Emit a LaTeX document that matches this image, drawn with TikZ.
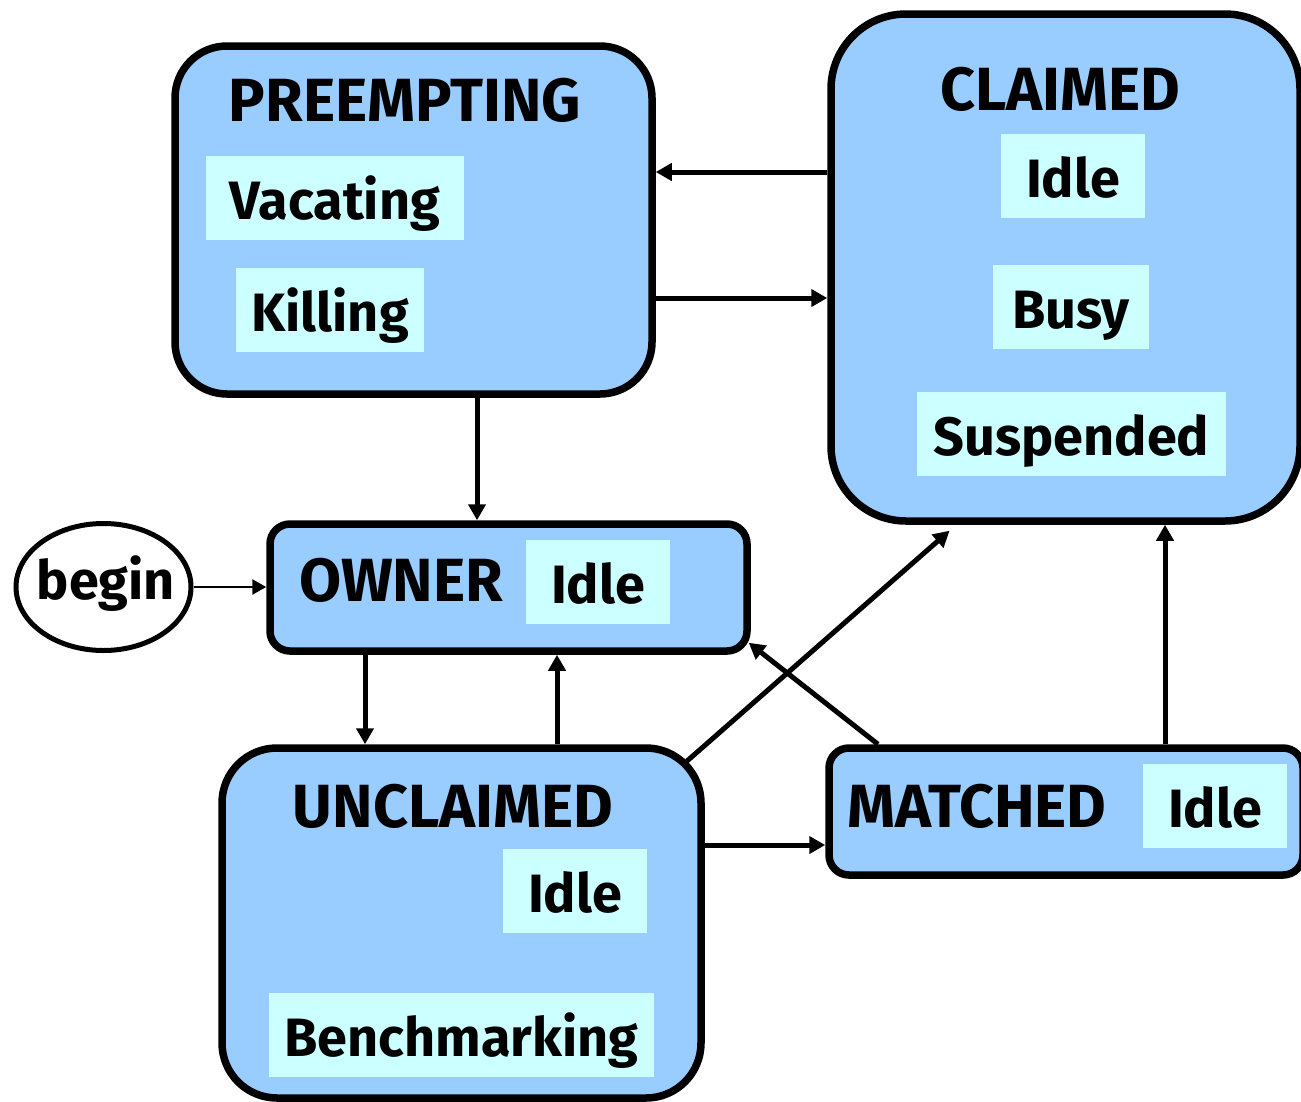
\documentclass[tikz,border=0pt]{standalone}
\usepackage{fontspec}
\setmainfont{Fira Sans}
\usetikzlibrary{arrows.meta,calc,shapes.geometric}
\definecolor{statefill}{HTML}{99CCFF}
\definecolor{subfill}{HTML}{CCFFFF}
\begin{document}
\begin{tikzpicture}[x=1pt,y=-1pt,
  statebox/.style={draw=black, line width=7.5pt, fill=statefill, rounded corners=#1, inner sep=0pt},
  statebox/.default=20pt,
  lbl/.style={font=\bfseries\fontsize{54}{60}\selectfont, inner sep=0pt},
  title/.style={font=\bfseries\fontsize{61}{66}\selectfont, inner sep=0pt},
  substate/.style={lbl, fill=subfill, text height=63pt, text depth=21pt, inner xsep=0pt, inner ysep=0pt},
  arr/.style={line width=5pt, -{Triangle[length=16pt,width=17pt]}},
  thinarr/.style={line width=2.5pt, -{Triangle[length=14pt,width=15pt]}}]
\clip (0,0) rectangle (1301,1101);

% states
\node[statebox=52pt, minimum width=477pt, minimum height=348pt] (preempt) at (413.5,220) {};
\node[statebox=75pt, minimum width=469pt, minimum height=507pt] (claimed) at (1065.5,267.5) {};
\node[statebox=20pt, minimum width=477pt, minimum height=127pt] (owner) at (508.5,587.5) {};
\node[statebox=55pt, minimum width=479pt, minimum height=350pt] (unclaimed) at (461.5,923) {};
\node[statebox=20pt, minimum width=474pt, minimum height=127pt] (matched) at (1066,811.5) {};
\node[ellipse, draw, line width=5pt, fill=white, minimum width=175pt, minimum height=127pt, inner sep=0pt] (begin) at (103.5,587) {};
\node[lbl] (tbegin) at (106,584) {begin};

% state titles
\node[title] (tpre) at (405,100) {PREEMPTING};
\node[title] (tcla) at (1060,89) {CLAIMED};
\node[title] (town) at (401,580) {OWNER};
\node[title] (tunc) at (453,806) {UNCLAIMED};
\node[title] (tmat) at (977,806) {MATCHED};

% activities
\node[substate, minimum width=258pt] (vac) at (335,198) {Vacating};
\node[substate, minimum width=188pt] (kil) at (330,310) {Killing};
\node[substate, minimum width=144pt] (cidle) at (1073,176) {Idle};
\node[substate, minimum width=156pt] (busy) at (1071,307) {Busy};
\node[substate, minimum width=309pt] (susp) at (1071.5,434) {Suspended};
\node[substate, minimum width=144pt] (oidle) at (598,582) {Idle};
\node[substate, minimum width=144pt] (uidle) at (575,891) {Idle};
\node[substate, minimum width=385pt] (bench) at (461.5,1035) {Benchmarking};
\node[substate, minimum width=144pt] (midle) at (1215,806) {Idle};

% transitions
\draw[arr] (claimed.west |- 0,172) -- (preempt.east |- 0,172);
\draw[arr] (preempt.east |- 0,298) -- (claimed.west |- 0,298);
\draw[arr] (preempt.south -| 477,0) -- (owner.north -| 477,0);
\draw[thinarr] (begin.east) -- (owner.west |- begin.east);
\draw[arr] (owner.south -| 365,0) -- (unclaimed.north -| 365,0);
\draw[arr] (unclaimed.north -| 557,0) -- (owner.south -| 557,0);
\draw[arr] ($(unclaimed.north east)+(-18,17)$) -- ($(claimed.south)+(-116,6)$);
\draw[arr] (matched.north -| 878,0) -- ($(owner.south east)+(-2,-12)$);
\draw[arr] (unclaimed.east |- 0,845) -- (matched.west |- 0,845);
\draw[arr] (matched.north -| 1165,0) -- (claimed.south -| 1165,0);
\end{tikzpicture}
\end{document}
